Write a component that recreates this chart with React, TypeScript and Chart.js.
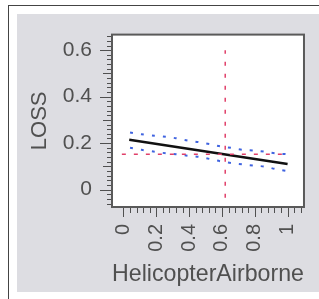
import React, { useEffect, useRef } from "react";
import { Chart, registerables } from "chart.js";

Chart.register(...registerables);

// ---- data ----
const ciX = [0.04, 0.11, 0.19, 0.26, 0.32, 0.39, 0.46, 0.53, 0.59, 0.66, 0.73, 0.8, 0.86, 0.93, 1.0];
const upperCI = [0.246, 0.238, 0.232, 0.227, 0.221, 0.211, 0.204, 0.195, 0.186, 0.179, 0.171, 0.168, 0.163, 0.156, 0.152];
const lowerCI = [0.18, 0.171, 0.163, 0.156, 0.152, 0.146, 0.141, 0.131, 0.122, 0.114, 0.108, 0.103, 0.099, 0.088, 0.08];
const fitX = [0.035, 1.0];
const fitY = [0.214, 0.11];
const meanX = 0.62;
const meanY = 0.152;
const meanXLineYRange = [-0.035, 0.6];
const meanYLineXRange = [-0.01, 1.0];
const xTickValues = [0, 0.2, 0.4, 0.6, 0.8, 1];
const yTickValues = [0, 0.2, 0.4, 0.6];
const xTitle = "HelicopterAirborne";
const yTitle = "LOSS";

const X_MIN = -0.07;
const X_MAX = 1.1;
const Y_MIN = -0.075;
const Y_MAX = 0.667;

const AXIS_COLOR = "#505050";
const FONT = "'Liberation Sans', Arial, sans-serif";

const framePlugin = {
  id: "frame",
  beforeDatasetsDraw(chart: any) {
    const { ctx, chartArea } = chart;
    ctx.save();
    ctx.fillStyle = "#ffffff";
    ctx.fillRect(chartArea.left, chartArea.top, chartArea.right - chartArea.left, chartArea.bottom - chartArea.top);
    ctx.restore();
  },
  afterDraw(chart: any) {
    const { ctx, chartArea } = chart;
    const { left, right, top, bottom } = chartArea;
    const xs = chart.scales.x;
    const ys = chart.scales.y;
    ctx.save();
    ctx.strokeStyle = AXIS_COLOR;
    ctx.lineWidth = 1;
    ctx.beginPath();
    for (let k = 0; k * 0.04 <= xs.max + 1e-9; k++) {
      const px = Math.round(xs.getPixelForValue(k * 0.04)) + 0.5;
      const len = k % 5 === 0 ? 10 : 6;
      ctx.moveTo(px, bottom);
      ctx.lineTo(px, bottom + len);
    }
    const kStart = Math.ceil(ys.min / 0.02);
    const kEnd = Math.floor(ys.max / 0.02);
    for (let k = kStart; k <= kEnd; k++) {
      const py = Math.round(ys.getPixelForValue(k * 0.02)) + 0.5;
      const len = k % 10 === 0 ? 12 : k % 5 === 0 ? 9 : 5;
      ctx.moveTo(left, py);
      ctx.lineTo(left - len, py);
    }
    ctx.stroke();
    ctx.lineWidth = 2;
    ctx.strokeStyle = "#5a5a5a";
    ctx.strokeRect(left, top, right - left, bottom - top);
    ctx.restore();
  },
};

export default function App() {
  const ref = useRef<HTMLCanvasElement | null>(null);

  useEffect(() => {
    if (!ref.current) return;
    const blue = "#3f63e0";
    const red = "#e0406a";
    const chart = new Chart(ref.current, {
      type: "line",
      data: {
        datasets: [
          {
            label: "mean x",
            data: meanXLineYRange.map((y) => ({ x: meanX, y })),
            borderColor: red,
            borderWidth: 1.5,
            borderDash: [4, 8],
            pointRadius: 0,
          },
          {
            label: "mean y",
            data: meanYLineXRange.map((x) => ({ x, y: meanY })),
            borderColor: red,
            borderWidth: 1.5,
            borderDash: [4, 8],
            pointRadius: 0,
          },
          {
            label: "upper",
            data: ciX.map((x, i) => ({ x, y: upperCI[i] })),
            borderColor: blue,
            borderWidth: 2,
            borderDash: [3, 8],
            pointRadius: 0,
            tension: 0.3,
          },
          {
            label: "lower",
            data: ciX.map((x, i) => ({ x, y: lowerCI[i] })),
            borderColor: blue,
            borderWidth: 2,
            borderDash: [3, 8],
            pointRadius: 0,
            tension: 0.3,
          },
          {
            label: "fit",
            data: fitX.map((x, i) => ({ x, y: fitY[i] })),
            borderColor: "#111111",
            borderWidth: 2.5,
            pointRadius: 0,
          },
        ],
      },
      options: {
        animation: false,
        responsive: false,
        events: [],
        layout: { padding: { top: 15, right: 5, left: 0, bottom: 0 } },
        plugins: { legend: { display: false }, tooltip: { enabled: false } },
        scales: {
          x: {
            type: "linear",
            min: X_MIN,
            max: X_MAX,
            afterBuildTicks: (scale: any) => {
              scale.ticks = xTickValues.map((v) => ({ value: v }));
            },
            afterFit: (scale: any) => {
              scale.height = 85;
            },
            grid: { display: false, drawTicks: true, tickLength: 10 },
            border: { display: false },
            ticks: {
              autoSkip: false,
              minRotation: 90,
              maxRotation: 90,
              padding: 7,
              color: AXIS_COLOR,
              font: { family: FONT, size: 20 },
              callback: (v: any) => String(v),
            },
            title: {
              display: true,
              text: xTitle,
              color: AXIS_COLOR,
              font: { family: FONT, size: 24 },
              padding: { top: 0, bottom: 3 },
            },
          },
          y: {
            type: "linear",
            min: Y_MIN,
            max: Y_MAX,
            afterBuildTicks: (scale: any) => {
              scale.ticks = yTickValues.map((v) => ({ value: v }));
            },
            afterFit: (scale: any) => {
              scale.width = 95;
            },
            grid: { display: false, drawTicks: true, tickLength: 12 },
            border: { display: false },
            ticks: {
              autoSkip: false,
              padding: 8,
              color: AXIS_COLOR,
              font: { family: FONT, size: 21 },
              callback: (v: any) => String(v),
            },
            title: {
              display: true,
              text: yTitle,
              color: AXIS_COLOR,
              font: { family: FONT, size: 22 },
              padding: { top: 10, bottom: 0 },
            },
          },
        },
      },
      plugins: [framePlugin],
    } as any);
    return () => chart.destroy();
  }, []);

  return (
    <div
      style={{
        position: "fixed",
        left: 8,
        top: 5,
        width: 320,
        height: 300,
        borderLeft: "1px solid #444",
        borderTop: "1px solid #444",
        background: "#ffffff",
      }}
    >
      <div
        style={{
          position: "absolute",
          left: 8,
          top: 8,
          width: 302,
          height: 278,
          background: "#dddde2",
        }}
      >
        <canvas ref={ref} width={302} height={278} style={{ display: "block", width: 302, height: 278 }} />
      </div>
    </div>
  );
}
